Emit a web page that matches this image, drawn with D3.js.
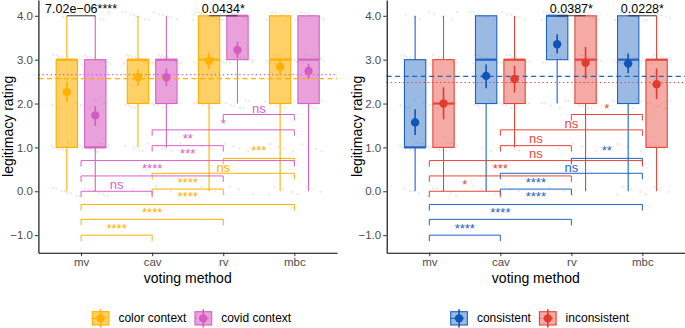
<!DOCTYPE html>
<html>
<head>
<meta charset="utf-8">
<script src="https://cdn.jsdelivr.net/npm/d3@7"></script>
<style>
  body { margin: 0; background: #fff; }
  svg { display: block; font-family: "Liberation Sans", Arial, Helvetica, sans-serif; }
</style>
</head>
<body>
<div id="chart"></div>
<script>
const methods = ["mv", "cav", "rv", "mbc"];
const yTicks = [-1, 0, 1, 2, 3, 4];
const contextGroups = ["color context", "covid context"];
const consistencyGroups = ["consistent", "inconsistent"];

// box stats per method: [lower whisker, q1, median, q3, upper whisker]
const colorBox = [[0, 1, 3, 3, 4], [1, 2, 3, 3, 4], [0, 2, 3, 4, 4], [0, 2, 3, 4, 4]];
const covidBox = [[0, 1, 1, 3, 4], [1, 2, 3, 3, 4], [2, 3, 4, 4, 4], [0, 2, 3, 4, 4]];
const consistentBox = [[0, 1, 1, 3, 4], [0, 2, 3, 4, 4], [2, 3, 4, 4, 4], [0, 2, 3, 4, 4]];
const inconsistentBox = [[0, 1, 2, 3, 4], [1, 2, 3, 3, 4], [0, 2, 3, 4, 4], [0, 1, 3, 3, 4]];

// mean with confidence interval: [low, mean, high]
const colorMean = [[2.04, 2.26, 2.50], [2.40, 2.60, 2.78], [2.78, 2.97, 3.16], [2.65, 2.84, 3.03]];
const covidMean = [[1.49, 1.73, 1.94], [2.40, 2.60, 2.80], [3.03, 3.22, 3.41], [2.56, 2.74, 2.91]];
const consistentMean = [[1.28, 1.57, 1.87], [2.35, 2.63, 2.89], [3.14, 3.35, 3.58], [2.69, 2.91, 3.14]];
const inconsistentMean = [[1.64, 2.00, 2.37], [2.25, 2.56, 2.86], [2.57, 2.93, 3.29], [2.10, 2.44, 2.80]];

// overall means (reference lines)
const colorOverall = 2.57, covidOverall = 2.66;
const consistentOverall = 2.62, inconsistentOverall = 2.48;

// raw ratings: count of answers at 0,1,2,3,4 per method (jittered dots)
const contextCounts = [[16, 22, 12, 20, 10], [4, 10, 18, 30, 14], [6, 6, 14, 22, 22], [8, 8, 14, 24, 18]];
const consistencyCounts = [[10, 20, 12, 14, 8], [6, 6, 16, 20, 14], [4, 4, 12, 16, 22], [8, 6, 12, 20, 16]];

// pairwise comparisons between methods (same order for every group)
const bracketPairs = [["rv", "mbc"], ["cav", "mbc"], ["cav", "rv"], ["mv", "mbc"], ["mv", "rv"], ["mv", "cav"]];
const labelPairs = [["rv", "mbc"], ["cav", "mbc"], ["cav", "rv"], ["cav", "rv"], ["mv", "rv"], ["mv", "cav"]];
const upperBracketY = [1.75, 1.40, 1.04, 0.70, 0.35, 0.0];
const lowerBracketY = [0.75, 0.41, 0.05, -0.30, -0.64, -1.0];
const upperLabelY = [1.79, 1.44, 1.11, 0.75, 0.41, 0.06];
const lowerLabelY = [0.82, 0.45, 0.10, -0.23, -0.58, -0.94];
const colorLabels = ["***", "ns", "****", "****", "****", "****"];
const covidLabels = ["ns", "*", "**", "***", "****", "ns"];
const consistentLabels = ["**", "ns", "****", "****", "****", "****"];
const inconsistentLabels = ["*", "ns", "ns", "ns", "***", "*"];

// between-group tests at top
const contextTop = [["mv", "7.02e\u221206****"], ["rv", "0.0434*"]];
const consistencyTop = [["rv", "0.0387*"], ["mbc", "0.0228*"]];

const width = 685, height = 328;
const svg = d3.select("#chart").append("svg")
    .attr("width", width)
    .attr("height", height);

function drawPanel(p) {
    const x = d3.scalePoint().domain(methods).range([p.x0, p.x1]).padding(0.6);
    const y = d3.scaleLinear().domain([-1.40, 4.36]).range([252.7, 0]);
    const step = x.step();
    const dodge = 0.2 * step, bw = 0.3 * step;
    const g = svg.append("g");

    // jittered raw answers
    const dots = [];
    methods.forEach((m, i) => {
        p.counts[i].forEach((n, r) => {
            for (let k = 0; k < n; k++) {
                const s = i * 97 + r * 31 + k + 1;
                const fx = (s * 0.6180339887) % 1;
                const fy = (s * 0.7548776662) % 1;
                dots.push({ x: x(m) + (fx - 0.5) * 0.85 * step, y: r + (fy - 0.5) * 0.22 });
            }
        });
    });
    g.append("g").selectAll("circle")
        .data(dots)
        .join("circle")
        .attr("cx", d => d.x)
        .attr("cy", d => y(d.y))
        .attr("r", 1.1)
        .attr("fill", "#c4c4c4")
        .attr("opacity", 0.4);

    // boxes
    p.groups.forEach((grp, gi) => {
        const off = gi === 0 ? -dodge : dodge;
        const bg = g.append("g");
        grp.box.forEach((b, i) => {
            const cx = x(methods[i]) + off;
            bg.append("line").attr("x1", cx).attr("x2", cx)
                .attr("y1", y(b[0])).attr("y2", y(b[1]))
                .attr("stroke", grp.color).attr("stroke-width", 1.1);
            bg.append("line").attr("x1", cx).attr("x2", cx)
                .attr("y1", y(b[3])).attr("y2", y(b[4]))
                .attr("stroke", grp.color).attr("stroke-width", 1.1);
            bg.append("rect")
                .attr("x", cx - bw / 2).attr("width", bw)
                .attr("y", y(b[3])).attr("height", y(b[1]) - y(b[3]))
                .attr("fill", grp.color).attr("fill-opacity", p.alpha)
                .attr("stroke", grp.color).attr("stroke-width", 1.1);
            bg.append("line")
                .attr("x1", cx - bw / 2).attr("x2", cx + bw / 2)
                .attr("y1", y(b[2])).attr("y2", y(b[2]))
                .attr("stroke", grp.color).attr("stroke-width", 2.2);
        });
    });

    // overall mean lines
    p.groups.forEach(grp => {
        g.append("line")
            .attr("x1", p.x0).attr("x2", p.x1)
            .attr("y1", y(grp.overall)).attr("y2", y(grp.overall))
            .attr("stroke", grp.color).attr("stroke-width", 1.2)
            .attr("stroke-dasharray", grp.dash);
    });

    // means with CI
    p.groups.forEach((grp, gi) => {
        const off = gi === 0 ? -dodge : dodge;
        grp.mean.forEach((mm, i) => {
            const cx = x(methods[i]) + off;
            g.append("line").attr("x1", cx).attr("x2", cx)
                .attr("y1", y(mm[0])).attr("y2", y(mm[2]))
                .attr("stroke", grp.dark).attr("stroke-width", 1.6);
            g.append("circle").attr("cx", cx).attr("cy", y(mm[1]))
                .attr("r", 4.2).attr("fill", grp.dark);
        });
    });

    // pairwise brackets
    const tip = 6;
    p.groups.forEach(grp => {
        const bg = g.append("g");
        bracketPairs.forEach((pr, i) => {
            const xa = x(pr[0]), xb = x(pr[1]), yy = y(grp.bracketY[i]);
            bg.append("path")
                .attr("d", `M${xa},${yy + tip}V${yy}H${xb}V${yy + tip}`)
                .attr("fill", "none")
                .attr("stroke", grp.color)
                .attr("stroke-width", 1);
        });
        labelPairs.forEach((pr, i) => {
            bg.append("text")
                .attr("x", (x(pr[0]) + x(pr[1])) / 2)
                .attr("y", y(grp.labelY[i]))
                .attr("text-anchor", "middle")
                .attr("font-size", 13)
                .attr("fill", grp.color)
                .text(grp.labels[i]);
        });
    });

    // between-group tests
    p.top.forEach(t => {
        const cx = x(t[0]);
        g.append("line")
            .attr("x1", cx - dodge).attr("x2", cx + dodge)
            .attr("y1", y(4)).attr("y2", y(4))
            .attr("stroke", "#333").attr("stroke-width", 1);
        g.append("text")
            .attr("x", cx).attr("y", y(4) - 3)
            .attr("text-anchor", "middle")
            .attr("font-size", 12.5)
            .attr("fill", "#000")
            .text(t[1]);
    });

    // axes
    const yAxis = g.append("g")
        .attr("transform", `translate(${p.x0},0)`)
        .call(d3.axisLeft(y).tickValues(yTicks).tickSize(3.5).tickSizeOuter(0).tickPadding(2));
    const xAxis = g.append("g")
        .attr("transform", `translate(0,${y.range()[0]})`)
        .call(d3.axisBottom(x).tickSize(3.5).tickSizeOuter(0).tickPadding(2));
    [yAxis, xAxis].forEach(a => {
        a.select(".domain").attr("stroke", "#000").attr("stroke-width", 1.1);
        a.selectAll(".tick line").attr("stroke", "#333");
        a.selectAll(".tick text").attr("fill", "#4d4d4d").attr("font-size", 11.5)
            .attr("font-family", "Liberation Sans, Arial, sans-serif");
    });

    // axis titles
    g.append("text")
        .attr("x", (p.x0 + p.x1) / 2).attr("y", 283)
        .attr("text-anchor", "middle")
        .attr("font-size", 14)
        .text("voting method");
    g.append("text")
        .attr("transform", `translate(${p.x0 - 25},${y.range()[0] / 2}) rotate(-90)`)
        .attr("text-anchor", "middle")
        .attr("font-size", 14)
        .text("legitimacy rating");

    // legend
    const lg = g.append("g");
    const keyW = 16.7, keyH = 13.3, ky = 311.7;
    let cursor = 0;
    const items = [];
    p.groups.forEach(grp => {
        const it = lg.append("g");
        it.append("rect").attr("x", 0).attr("y", ky).attr("width", keyW).attr("height", keyH)
            .attr("fill", grp.color).attr("fill-opacity", p.alpha)
            .attr("stroke", grp.color).attr("stroke-width", 1.1);
        it.append("line").attr("x1", 0).attr("x2", keyW).attr("y1", ky + keyH / 2).attr("y2", ky + keyH / 2)
            .attr("stroke", grp.color).attr("stroke-width", 1.2).attr("stroke-dasharray", grp.dash);
        it.append("line").attr("x1", keyW / 2).attr("x2", keyW / 2).attr("y1", ky - 2.5).attr("y2", ky + keyH + 2.5)
            .attr("stroke", grp.dark).attr("stroke-width", 1.6);
        it.append("circle").attr("cx", keyW / 2).attr("cy", ky + keyH / 2).attr("r", 4.2).attr("fill", grp.dark);
        const txt = it.append("text").attr("x", keyW + 9.5).attr("y", 321.7)
            .attr("font-size", 12).attr("fill", "#000").text(grp.name);
        const w = keyW + 9.5 + txt.node().getComputedTextLength();
        items.push({ it, pos: cursor });
        cursor += w + 8.5;
    });
    const total = cursor - 8.5;
    const start = (p.x0 + p.x1) / 2 + 4 - total / 2;
    items.forEach(d => d.it.attr("transform", `translate(${start + d.pos},0)`));
}

drawPanel({
    x0: 38.4, x1: 337, alpha: 0.6,
    counts: contextCounts, top: contextTop,
    groups: [
        { name: contextGroups[0], color: "#ffb000", dark: "#ffb000", box: colorBox, mean: colorMean,
          overall: colorOverall, dash: "5,3.5", bracketY: lowerBracketY, labelY: lowerLabelY, labels: colorLabels },
        { name: contextGroups[1], color: "#d862c3", dark: "#d65cc1", box: covidBox, mean: covidMean,
          overall: covidOverall, dash: "1.3,2.8", bracketY: upperBracketY, labelY: upperLabelY, labels: covidLabels }
    ]
});

drawPanel({
    x0: 386.7, x1: 685, alpha: 0.45,
    counts: consistencyCounts, top: consistencyTop,
    groups: [
        { name: consistencyGroups[0], color: "#1f64c1", dark: "#0f55b5", box: consistentBox, mean: consistentMean,
          overall: consistentOverall, dash: "5,3.5", bracketY: lowerBracketY, labelY: lowerLabelY, labels: consistentLabels },
        { name: consistencyGroups[1], color: "#e6453a", dark: "#e23c30", box: inconsistentBox, mean: inconsistentMean,
          overall: inconsistentOverall, dash: "1.3,2.8", bracketY: upperBracketY, labelY: upperLabelY, labels: inconsistentLabels }
    ]
});
</script>
</body>
</html>
